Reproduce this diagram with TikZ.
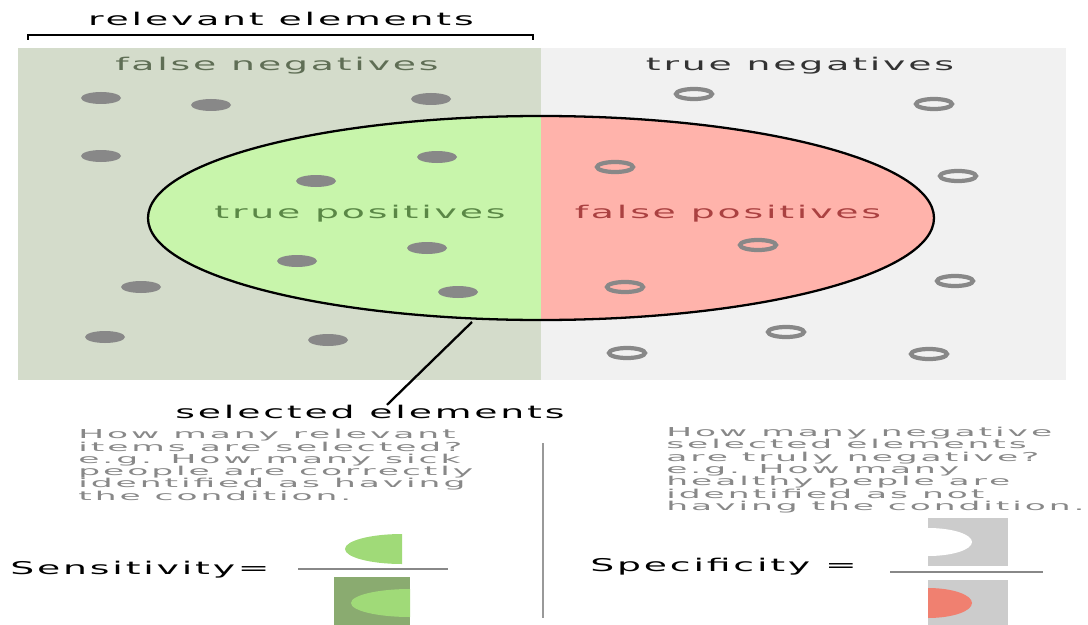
\documentclass[tikz,border=0pt]{standalone}
\usepackage{fontspec}
\usepackage{tikz}
\newfontfamily\labfont[FakeStretch=2.15,LetterSpace=16]{DejaVu Sans}
\newfontfamily\notefont[FakeStretch=2.8,LetterSpace=24]{DejaVu Sans}

\definecolor{relbg}{HTML}{D4DCCB}
\definecolor{negbg}{HTML}{F1F1F1}
\definecolor{tpgreen}{HTML}{C8F5AB}
\definecolor{fpred}{HTML}{FFB3AB}
\definecolor{dotgray}{HTML}{888888}
\definecolor{sensgreen}{HTML}{A0DA78}
\definecolor{sensdark}{HTML}{8AAB70}
\definecolor{specgray}{HTML}{CCCCCC}
\definecolor{specred}{HTML}{F08070}

\tikzset{
  lab/.style={font=\labfont\fontsize{10}{12}\selectfont, inner sep=0pt},
  note/.style={font=\notefont\fontsize{7}{7}\selectfont, text=dotgray, align=left, inner sep=0pt, anchor=north west},
  posdot/.style={fill=dotgray, draw=none},
  negring/.style={draw=dotgray, line width=2.4pt},
  fracline/.style={draw=dotgray, line width=1.2pt}
}

\begin{document}
\begin{tikzpicture}[x=0.02cm, y=-0.02cm]
        \useasboundingbox (0,0) rectangle (1088,625);
        % the two halves: relevant / not relevant
        \fill[relbg] (18,48) rectangle (541,380);
        \fill[negbg] (541,48) rectangle (1066,380);

        % bracket over the relevant elements
        \draw[line width=1.3pt] (28,40) -- (28,35) -- (533,35) -- (533,40);
        \node[lab] (rel) at (281,19) {relevant elements};

        \node[lab, text={rgb,255:red,95;green,110;blue,85}] (fn) at (277,66) {false negatives};
        \node[lab, text=black!80] (tn) at (800,66) {true negatives};

        % selected elements
        \begin{scope}
            \clip (541,218) ellipse [x radius=393, y radius=102];
            \fill[tpgreen] (140,100) rectangle (541,330);
            \fill[fpred] (541,100) rectangle (940,330);
        \end{scope}
        \draw[line width=1.3pt] (541,218) ellipse [x radius=393, y radius=102];

        \node[lab, text={rgb,255:red,90;green,135;blue,70}] (tp) at (360,214) {true positives};
        \node[lab, text={rgb,255:red,170;green,65;blue,65}] (fp) at (728,214) {false positives};

        %relevant elements as dots
        \foreach \x/\y in {101/98, 211/105, 431/99, 101/156, 437/157, 316/181, 297/261, 427/248, 458/292, 141/287, 105/337, 328/340} {
            \fill[posdot] (\x,\y) ellipse [x radius=20, y radius=6];
        }
        %the other elements as rings
        \foreach \x/\y in {694/94, 934/104, 615/167, 958/176, 758/245, 625/287, 955/281, 786/332, 627/353, 929/354} {
            \draw[negring] (\x,\y) ellipse [x radius=18, y radius=5];
        }

        \coordinate (selpt) at (472,322);
        \node[lab] (sel) at (370,412) {selected elements};
        \draw[line width=1.3pt] (selpt) -- (sel.north -| 387,0);

        % sensitivity
        \node[note] (sensq) at (78,429) {How many relevant\\items are selected?\\e.g. How many sick\\people are correctly\\identified as having\\the condition.};
        \node[lab, anchor=west] (sens) at (10,570) {Sensitivity=};
        \draw[fracline] (298,569) -- (448,569);
        \fill[sensgreen] (402,564) arc (90:270:57 and 15) -- cycle;
        \fill[sensdark] (334,577) rectangle (410,625);
        \fill[sensgreen] (410,617) arc (90:270:59 and 14) -- cycle;

        \draw[draw=black!40, line width=1.2pt] (543,443) -- (543,618);

        % specificity
        \node[note] (specq) at (666,427) {How many negative\\selected elements\\are truly negative?\\e.g. How many\\healthy peple are\\identified as not\\having the condition.};
        \node[lab, anchor=west] (spec) at (590,567) {Specificity =};
        \draw[fracline] (890,572) -- (1043,572);
        \fill[specgray] (928,518) rectangle (1008,566);
        \fill[white] (928,528) arc (-90:90:44 and 14) -- cycle;
        \fill[specgray] (928,580) rectangle (1008,625);
        \fill[specred] (928,588) arc (-90:90:44 and 15) -- cycle;
    \end{tikzpicture}
\end{document}
